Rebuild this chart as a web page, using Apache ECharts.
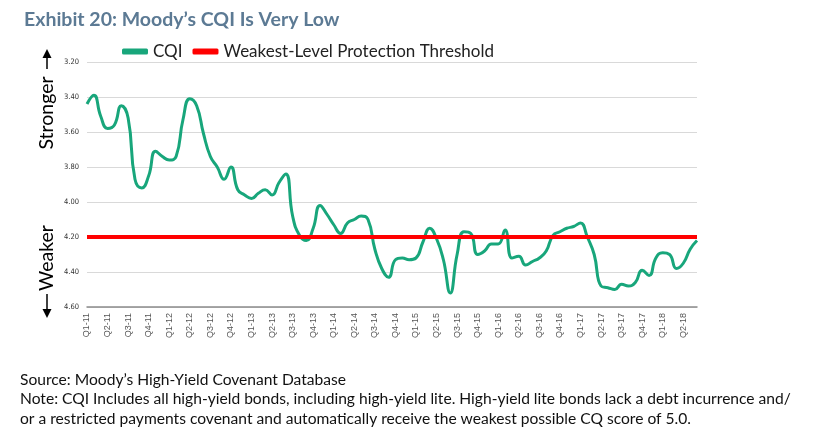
<!DOCTYPE html>
<html lang="en">
<head>
    <meta charset="UTF-8">
    <title>Exhibit 20</title>
    <script src="https://cdn.jsdelivr.net/npm/echarts@6/dist/echarts.min.js"></script>
    <style>
        html, body { margin: 0; padding: 0; background: #fff; }
        #chart { width: 815px; height: 446px; }
    </style>
</head>
<body>
<div id="chart"></div>

<script>
    // quarter tick labels (one per 3 months)
    var quarters = ['Q1-11', 'Q2-11', 'Q3-11', 'Q4-11', 'Q1-12', 'Q2-12', 'Q3-12', 'Q4-12',
        'Q1-13', 'Q2-13', 'Q3-13', 'Q4-13', 'Q1-14', 'Q2-14', 'Q3-14', 'Q4-14',
        'Q1-15', 'Q2-15', 'Q3-15', 'Q4-15', 'Q1-16', 'Q2-16', 'Q3-16', 'Q4-16',
        'Q1-17', 'Q2-17', 'Q3-17', 'Q4-17', 'Q1-18', 'Q2-18'];

    // monthly CQI readings, Jan 2011 - Jun 2018
    var cqi = [
        3.44, 3.39, 3.51, 3.58, 3.56, 3.45, 3.52, 3.87, 3.92, 3.85, 3.71, 3.74,
        3.76, 3.74, 3.53, 3.41, 3.45, 3.61, 3.74, 3.80, 3.87, 3.80, 3.93, 3.96,
        3.98, 3.95, 3.93, 3.96, 3.89, 3.84, 4.08, 4.19, 4.22, 4.15, 4.02, 4.07,
        4.13, 4.18, 4.12, 4.10, 4.08, 4.10, 4.27, 4.38, 4.43, 4.33, 4.32, 4.33,
        4.32, 4.23, 4.15, 4.21, 4.33, 4.52, 4.30, 4.17, 4.18, 4.30, 4.28, 4.24,
        4.24, 4.16, 4.32, 4.31, 4.36, 4.34, 4.32, 4.28, 4.19, 4.17, 4.15, 4.14,
        4.12, 4.20, 4.30, 4.48, 4.49, 4.50, 4.47, 4.48, 4.46, 4.39, 4.42, 4.32,
        4.29, 4.30, 4.38, 4.35, 4.27, 4.22
    ];

    var threshold = 4.20;

    // one category per month
    var months = cqi.map(function (v, i) { return 'm' + i; });
    var thresholdLine = months.map(function () { return threshold; });

    var chart = echarts.init(document.getElementById('chart'));

    var bodyFont = 'Lato';

    var option = {
        animation: false,
        title: {
            text: 'Exhibit 20: Moody\u2019s CQI Is Very Low',
            left: 19,
            top: 5,
            textStyle: {
                fontFamily: bodyFont,
                fontWeight: 'bold',
                fontSize: 19.5,
                color: '#5c7a94'
            }
        },
        legend: {
            left: 117,
            top: 38,
            itemWidth: 26,
            itemHeight: 6,
            itemGap: 10,
            icon: 'roundRect',
            textStyle: {
                fontFamily: bodyFont,
                fontSize: 17,
                color: '#222'
            },
            data: ['CQI', 'Weakest-Level Protection Threshold']
        },
        grid: {
            left: 87,
            right: 118,
            top: 62,
            bottom: 139
        },
        xAxis: {
            type: 'category',
            boundaryGap: false,
            data: months,
            axisLine: { lineStyle: { color: '#8c8c8c', width: 1.5 } },
            axisTick: { show: false },
            axisLabel: {
                interval: function (i) { return i % 3 === 0; },
                formatter: function (v, i) { return quarters[i / 3]; },
                rotate: 90,
                margin: 6,
                fontFamily: 'Liberation Sans',
                fontSize: 9,
                color: '#555'
            },
            splitLine: { show: false }
        },
        yAxis: {
            type: 'value',
            inverse: true,
            min: 3.2,
            max: 4.6,
            interval: 0.2,
            axisLine: { show: false },
            axisTick: { show: false },
            axisLabel: {
                formatter: function (v) { return v.toFixed(2); },
                margin: 8,
                fontFamily: 'DejaVu Sans Condensed',
                fontSize: 7.5,
                color: '#333'
            },
            splitLine: { lineStyle: { color: '#d9d9d9', width: 1 } }
        },
        series: [
            {
                name: 'CQI',
                type: 'line',
                data: cqi,
                smooth: 0.5,
                symbol: 'none',
                z: 3,
                lineStyle: { color: '#18a67b', width: 3 },
                itemStyle: { color: '#18a67b' }
            },
            {
                name: 'Weakest-Level Protection Threshold',
                type: 'line',
                data: thresholdLine,
                symbol: 'none',
                z: 4,
                lineStyle: { color: '#ff0000', width: 4 },
                itemStyle: { color: '#ff0000' }
            }
        ],
        graphic: [
            // "Stronger" with up arrow
            {
                type: 'line',
                shape: { x1: 47, y1: 54, x2: 47, y2: 69 },
                style: { stroke: '#000', lineWidth: 1.5 }
            },
            {
                type: 'polygon',
                shape: { points: [[47, 49], [42.5, 58], [51.5, 58]] },
                style: { fill: '#000' }
            },
            {
                type: 'text',
                x: 47,
                y: 113,
                rotation: Math.PI / 2,
                style: {
                    text: 'Stronger',
                    fontFamily: bodyFont,
                    fontSize: 19.5,
                    fill: '#000',
                    align: 'center',
                    verticalAlign: 'middle'
                }
            },
            // "Weaker" with down arrow
            {
                type: 'text',
                x: 47,
                y: 258,
                rotation: Math.PI / 2,
                style: {
                    text: 'Weaker',
                    fontFamily: bodyFont,
                    fontSize: 19.5,
                    fill: '#000',
                    align: 'center',
                    verticalAlign: 'middle'
                }
            },
            {
                type: 'line',
                shape: { x1: 47, y1: 294, x2: 47, y2: 312 },
                style: { stroke: '#000', lineWidth: 1.5 }
            },
            {
                type: 'polygon',
                shape: { points: [[47, 318], [42.5, 309], [51.5, 309]] },
                style: { fill: '#000' }
            },
            // footnotes
            {
                type: 'text',
                x: 20,
                y: 370,
                style: {
                    text: 'Source: Moody\u2019s High-Yield Covenant Database\n' +
                        'Note: CQI Includes all high-yield bonds, including high-yield lite. High-yield lite bonds lack a debt incurrence and/\n' +
                        'or a restricted payments covenant and automatically receive the weakest possible CQ score of 5.0.',
                    fontFamily: bodyFont,
                    fontSize: 15.6,
                    lineHeight: 19.5,
                    fill: '#111'
                }
            }
        ]
    };

    chart.setOption(option);
</script>

</body>
</html>
